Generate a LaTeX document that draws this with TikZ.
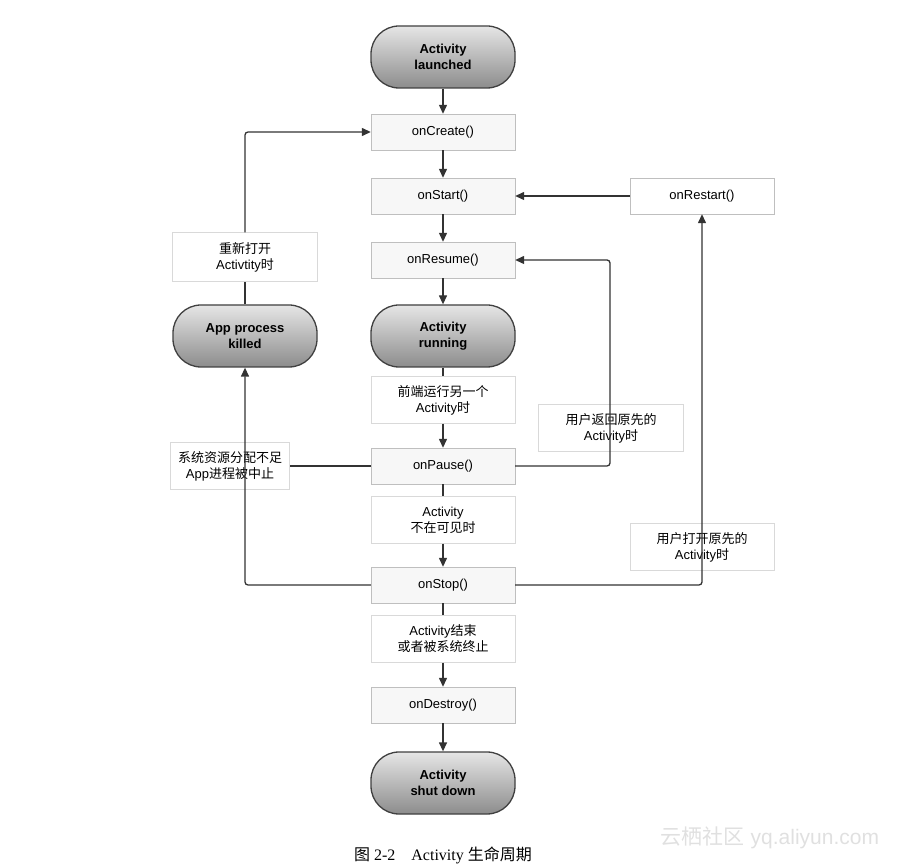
\documentclass[tikz,border=0pt]{standalone}
\usepackage{fontspec}
\setmainfont{Liberation Sans}
\newfontfamily\cjk{Noto Sans CJK SC}
\newfontfamily\capfont{Liberation Serif}
\usetikzlibrary{arrows.meta}
\begin{document}
\begin{tikzpicture}[x=1pt,y=-1pt,
  every node/.style={font=\fontsize{13}{16}\selectfont,align=center,inner sep=0pt},
  state/.style={draw=black!75,line width=1.3pt,rounded corners=28pt,minimum width=144pt,minimum height=62pt,top color=black!10,bottom color=black!45,font=\bfseries\fontsize{13}{16}\selectfont},
  meth/.style={draw=black!25,fill=black!3,minimum width=144pt,minimum height=36pt},
  lab/.style={draw=black!15,fill=white,minimum width=144pt,minimum height=47pt},
  ln/.style={line width=1.3pt,black!80},
  ar/.style={ln,-{Triangle[length=9pt,width=8pt]}}]
\useasboundingbox (0,0) rectangle (922,866);
\node[state] (launch) at (443,57) {Activity\\launched};
\node[meth] (create) at (443,132) {onCreate()};
\node[meth] (start) at (443,196) {onStart()};
\node[meth] (resume) at (443,260) {onResume()};
\node[state] (run) at (443,336) {Activity\\running};
\node[lab] (l1) at (443,400) {{\cjk 前端运行另一个}\\Activity{\cjk 时}};
\node[meth] (pause) at (443,466) {onPause()};
\node[lab] (l2) at (443,520) {Activity\\{\cjk 不在可见时}};
\node[meth] (stop) at (443,585) {onStop()};
\node[lab] (l3) at (443,639) {Activity{\cjk 结束}\\{\cjk 或者被系统终止}};
\node[meth] (destroy) at (443,705) {onDestroy()};
\node[state] (shut) at (443,783) {Activity\\shut down};
\node[meth,fill=white] (restart) at (702,196) {onRestart()};
\node[state] (killed) at (245,336) {App process\\killed};
\node[lab,minimum height=49pt,minimum width=145pt] (l4) at (245,257) {{\cjk 重新打开}\\Activtity{\cjk 时}};
\node[lab,minimum width=119pt] (l5) at (230,466) {{\cjk 系统资源分配不足}\\App{\cjk 进程被中止}};
\node[lab,minimum width=145pt] (l6) at (611,428) {{\cjk 用户返回原先的}\\Activity{\cjk 时}};
\node[lab,minimum width=144pt] (l7) at (702,547) {{\cjk 用户打开原先的}\\Activity{\cjk 时}};
\coordinate (c1) at (245,132);
\coordinate (c2) at (245,585);
\coordinate (c3) at (610,466);
\coordinate (c4) at (610,260);
\coordinate (c5) at (702,585);
\draw[ar] (launch) -- (create);
\draw[ar] (create) -- (start);
\draw[ar] (start) -- (resume);
\draw[ar] (resume) -- (run);
\draw[ln] (run) -- (l1);
\draw[ar] (l1) -- (pause);
\draw[ln] (pause) -- (l2);
\draw[ar] (l2) -- (stop);
\draw[ln] (stop) -- (l3);
\draw[ar] (l3) -- (destroy);
\draw[ar] (destroy) -- (shut);
\draw[ar] (restart) -- (start);
\draw[ln] (killed) -- (l4);
\draw[ar,rounded corners=3pt] (l4) -- (c1) -- (create);
\draw[ln] (pause) -- (l5);
\draw[ar,rounded corners=3pt] (stop) -- (c2) -- (killed);
\draw[ar,rounded corners=3pt] (pause) -- (c3) -- (c4) -- (resume);
\draw[ar,rounded corners=3pt] (stop) -- (c5) -- (restart);
\node[font=\capfont\fontsize{16}{18}\selectfont] (cap) at (443,855) {{\cjk 图} 2-2\quad Activity {\cjk 生命周期}};
\node[text=black!12,font=\fontsize{21}{23}\selectfont] (wm) at (770,838) {{\cjk 云栖社区} yq.aliyun.com};
\end{tikzpicture}
\end{document}
